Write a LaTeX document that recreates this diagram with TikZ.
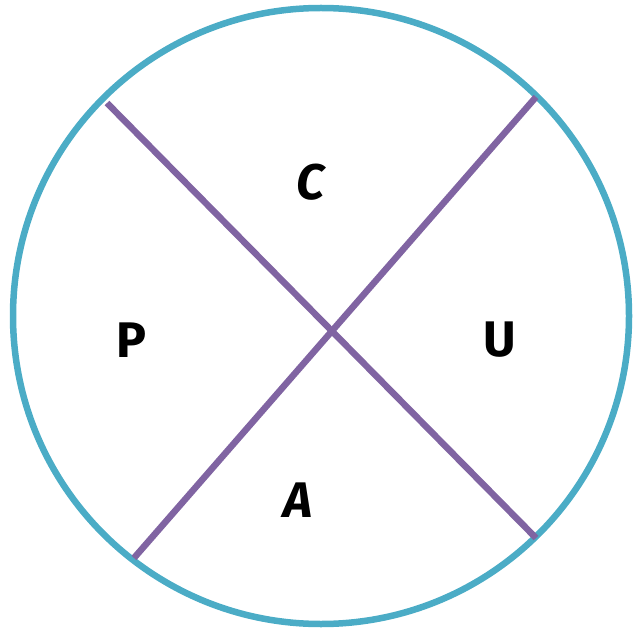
\documentclass[tikz,border=0pt]{standalone}
\usepackage{fontspec}
\setmainfont{Fira Sans}
\definecolor{ringc}{HTML}{4BACC6}
\definecolor{crossc}{HTML}{8064A2}
\begin{document}
\begin{tikzpicture}[x=1pt,y=-1pt,
  ring/.style={draw=ringc,line width=6.5pt},
  cross/.style={draw=crossc,line width=6.5pt},
  lbl/.style={font=\fontsize{50}{50}\selectfont\bfseries, text=black, inner sep=0pt}]
\useasboundingbox (0,0) rectangle (634,628);
\node[ring,circle,minimum size=616pt,inner sep=0pt] (ring) at (321,316) {};
\coordinate (a1) at (107,103);
\coordinate (a2) at (536,538);
\coordinate (b1) at (536,97);
\coordinate (b2) at (134,558);
\draw[cross] (a1) -- (a2);
\draw[cross] (b1) -- (b2);
\node[lbl] (c) at (311,182) {\itshape C};
\node[lbl] (p) at (131,340) {P};
\node[lbl] (u) at (500,340) {U};
\node[lbl] (a) at (298,500) {\itshape A};
\end{tikzpicture}
\end{document}
